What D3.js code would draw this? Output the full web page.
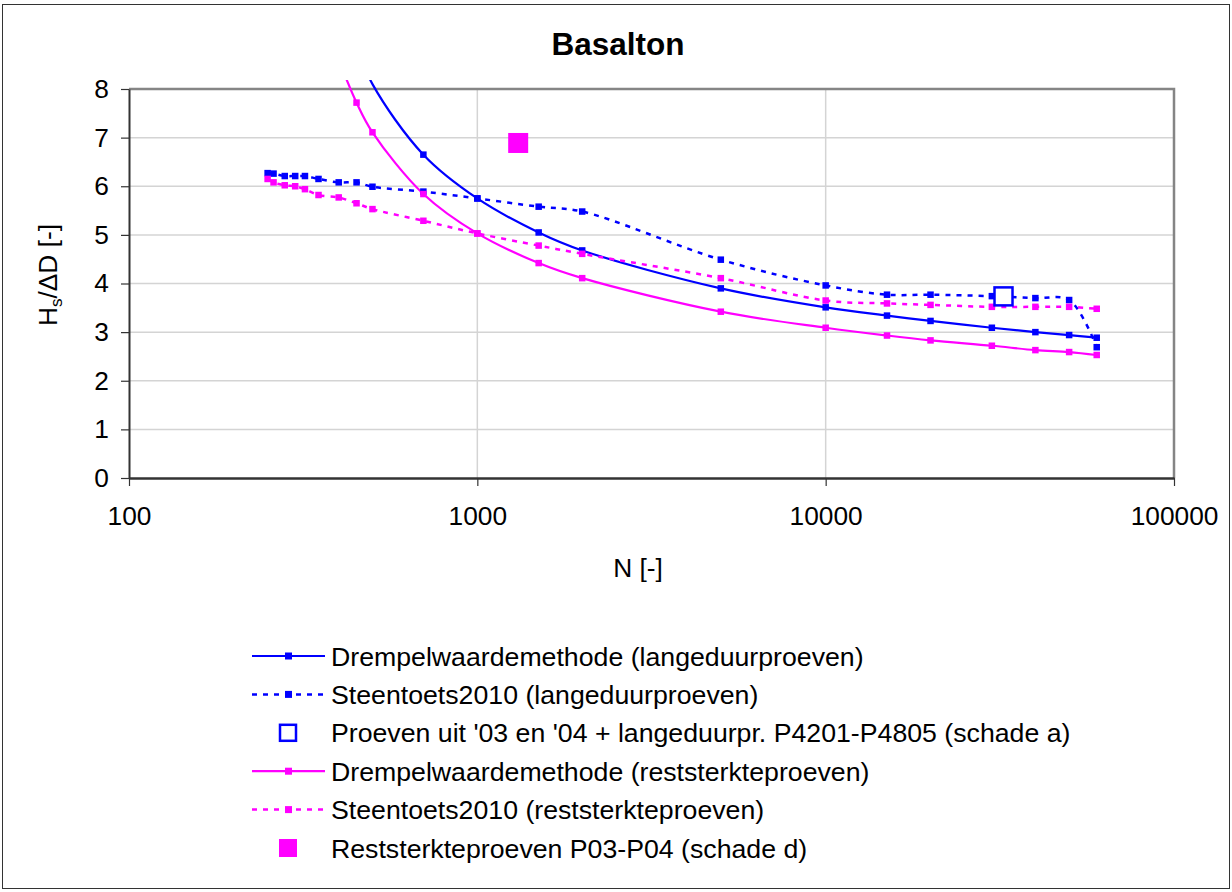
<!DOCTYPE html>
<html>
<head>
<meta charset="utf-8">
<script src="https://cdn.jsdelivr.net/npm/d3@7"></script>
<style>
  body { margin: 0; background: #fff; }
  svg { display: block; }
  text { font-family: Arial, "Liberation Sans", sans-serif; fill: #000; }
</style>
</head>
<body>
<svg id="chart" width="1232" height="892"></svg>
<script>
// ---- data ----
const nDrempelLang = [450, 500, 700, 1000, 1500, 2000, 5000, 10000, 15000, 20000, 30000, 40000, 50000, 60000];
const vDrempelLang = [8.9, 8.1, 6.65, 5.75, 5.05, 4.68, 3.90, 3.51, 3.34, 3.23, 3.09, 3.00, 2.94, 2.885];

const nSteenLang = [250, 260, 280, 300, 320, 350, 400, 450, 500, 700, 1000, 1500, 2000, 5000, 10000, 15000, 20000, 30000, 40000, 50000, 60000];
const vSteenLang = [6.27, 6.26, 6.21, 6.21, 6.21, 6.15, 6.08, 6.08, 5.99, 5.89, 5.75, 5.58, 5.48, 4.49, 3.96, 3.77, 3.77, 3.74, 3.70, 3.66, 2.69];

const nProevenA = [32400];
const vProevenA = [3.735];

const nDrempelRest = [400, 450, 500, 700, 1000, 1500, 2000, 5000, 10000, 15000, 20000, 30000, 40000, 50000, 60000];
const vDrempelRest = [8.6, 7.72, 7.11, 5.84, 5.03, 4.42, 4.11, 3.42, 3.09, 2.93, 2.83, 2.72, 2.63, 2.59, 2.53];

const nSteenRest = [250, 260, 280, 300, 320, 350, 400, 450, 500, 700, 1000, 1500, 2000, 5000, 10000, 15000, 20000, 30000, 40000, 50000, 60000];
const vSteenRest = [6.15, 6.08, 6.02, 6.00, 5.94, 5.82, 5.77, 5.65, 5.53, 5.29, 5.03, 4.78, 4.61, 4.11, 3.65, 3.59, 3.56, 3.52, 3.52, 3.52, 3.48];

const nRestD = [1310];
const vRestD = [6.89];

const xTicks = [100, 1000, 10000, 100000];
const yTicks = [0, 1, 2, 3, 4, 5, 6, 7, 8];

const titleText = "Basalton";
const xLabel = "N [-]";
const legendLabels = [
  "Drempelwaardemethode (langeduurproeven)",
  "Steentoets2010 (langeduurproeven)",
  "Proeven uit '03 en '04 + langeduurpr. P4201-P4805 (schade a)",
  "Drempelwaardemethode (reststerkteproeven)",
  "Steentoets2010 (reststerkteproeven)",
  "Reststerkteproeven P03-P04 (schade d)"
];

// ---- layout ----
const BLUE = "#0000ff", PINK = "#ff00ff";
const FS = 26.3;
const svg = d3.select("#chart");
const plot = { left: 129, right: 1174, top: 89, bottom: 478 };

const x = d3.scaleLog().domain([100, 100000]).range([plot.left, plot.right]);
const y = d3.scaleLinear().domain([0, 8]).range([plot.bottom, plot.top]);

// outer frame
svg.append("rect").attr("x", 2.5).attr("y", 4.5).attr("width", 1227).attr("height", 884)
  .attr("fill", "#fff").attr("stroke", "#333").attr("stroke-width", 1);

// clips
const defs = svg.append("defs");
defs.append("clipPath").attr("id", "lineClip").append("rect")
  .attr("x", plot.left).attr("y", 80).attr("width", plot.right - plot.left).attr("height", plot.bottom - 80);
defs.append("clipPath").attr("id", "plotClip").append("rect")
  .attr("x", plot.left - 5).attr("y", plot.top - 4).attr("width", plot.right - plot.left + 10).attr("height", plot.bottom - plot.top + 8);

// gridlines
const grid = svg.append("g");
grid.selectAll("line.h").data(yTicks.filter(d => d > 0 && d < 8)).join("line")
  .attr("x1", plot.left).attr("x2", plot.right)
  .attr("y1", d => y(d)).attr("y2", d => y(d))
  .attr("stroke", "#d4d4d4").attr("stroke-width", 1.5);
grid.selectAll("line.v").data(xTicks.filter(d => d > 100 && d < 100000)).join("line")
  .attr("y1", plot.top).attr("y2", plot.bottom)
  .attr("x1", d => x(d)).attr("x2", d => x(d))
  .attr("stroke", "#d4d4d4").attr("stroke-width", 1.5);

// plot border top/right
svg.append("path")
  .attr("d", `M${plot.left},${plot.top}H${plot.right}V${plot.bottom}`)
  .attr("fill", "none").attr("stroke", "#858585").attr("stroke-width", 2.5);

// axes
const yAxis = d3.axisLeft(y).tickValues(yTicks).tickSize(8).tickSizeOuter(0).tickPadding(12).tickFormat(d3.format("d"));
const gy = svg.append("g").attr("transform", `translate(${plot.left},0)`).call(yAxis);
gy.select(".domain").attr("stroke", "#333").attr("stroke-width", 2);
gy.selectAll(".tick line").attr("stroke", "#333").attr("stroke-width", 1.2);
gy.selectAll(".tick text").attr("font-size", FS).attr("font-family", "Arial, 'Liberation Sans', sans-serif").attr("fill", "#000");

const xAxis = d3.axisBottom(x).tickValues(xTicks).tickSize(8).tickSizeOuter(0).tickPadding(20).tickFormat(d3.format("d"));
const gx = svg.append("g").attr("transform", `translate(0,${plot.bottom})`).call(xAxis);
gx.select(".domain").attr("stroke", "#333").attr("stroke-width", 2.5);
gx.selectAll(".tick line").attr("stroke", "#333").attr("stroke-width", 1.2);
gx.selectAll(".tick text").attr("font-size", FS).attr("font-family", "Arial, 'Liberation Sans', sans-serif").attr("fill", "#000");

// title & axis labels
svg.append("text").attr("x", 618).attr("y", 55).attr("text-anchor", "middle")
  .attr("font-size", 31.5).attr("font-weight", "bold").text(titleText);
svg.append("text").attr("x", 638).attr("y", 577).attr("text-anchor", "middle")
  .attr("font-size", FS).text(xLabel);
const yl = svg.append("text").attr("transform", "translate(57,275) rotate(-90)").attr("text-anchor", "middle")
  .attr("font-size", FS);
yl.append("tspan").text("H");
yl.append("tspan").attr("font-size", 17).attr("dy", 5).text("s");
yl.append("tspan").attr("dy", -5).text("/ΔD [-]");

// series
const line = d3.line().x(d => x(d[0])).y(d => y(d[1])).curve(d3.curveCatmullRom.alpha(0.5));
const DASH = "5,6";
const series = [
  { n: nDrempelLang, v: vDrempelLang, color: BLUE, dash: null },
  { n: nSteenLang, v: vSteenLang, color: BLUE, dash: DASH },
  { n: nDrempelRest, v: vDrempelRest, color: PINK, dash: null },
  { n: nSteenRest, v: vSteenRest, color: PINK, dash: DASH }
];
const lines = svg.append("g").attr("clip-path", "url(#lineClip)");
const marks = svg.append("g").attr("clip-path", "url(#plotClip)");
const MS = 6.5;
series.forEach(s => {
  const pts = s.n.map((n, i) => [n, s.v[i]]);
  lines.append("path").datum(pts).attr("d", line)
    .attr("fill", "none").attr("stroke", s.color).attr("stroke-width", s.dash ? 2.5 : 2.2)
    .attr("stroke-dasharray", s.dash);
  marks.selectAll(null).data(pts.filter(p => p[1] <= 8.05)).join("rect")
    .attr("x", d => x(d[0]) - MS / 2).attr("y", d => y(d[1]) - MS / 2)
    .attr("width", MS).attr("height", MS).attr("fill", s.color);
});

// single points
const pA = nProevenA.map((n, i) => [n, vProevenA[i]]);
marks.selectAll(null).data(pA).join("rect")
  .attr("x", d => x(d[0]) - 9).attr("y", d => y(d[1]) - 9)
  .attr("width", 18).attr("height", 18).attr("fill", "#fff")
  .attr("stroke", BLUE).attr("stroke-width", 2.5);
const pD = nRestD.map((n, i) => [n, vRestD[i]]);
marks.selectAll(null).data(pD).join("rect")
  .attr("x", d => x(d[0]) - 10).attr("y", d => y(d[1]) - 10)
  .attr("width", 20).attr("height", 20).attr("fill", PINK);

// legend
const leg = svg.append("g");
const legY0 = 656, legDY = 38.4;
const legItems = [
  { type: "line", color: BLUE, dash: null },
  { type: "line", color: BLUE, dash: DASH },
  { type: "hollow", color: BLUE },
  { type: "line", color: PINK, dash: null },
  { type: "line", color: PINK, dash: DASH },
  { type: "filled", color: PINK }
];
legItems.forEach((it, i) => {
  const cy = legY0 + i * legDY;
  const g = leg.append("g");
  if (it.type === "line") {
    g.append("line").attr("x1", 252).attr("x2", 325).attr("y1", cy).attr("y2", cy)
      .attr("stroke", it.color).attr("stroke-width", it.dash ? 2.5 : 2.2).attr("stroke-dasharray", it.dash);
    g.append("rect").attr("x", 288.5 - 3.5).attr("y", cy - 3.5).attr("width", 7).attr("height", 7).attr("fill", it.color);
  } else if (it.type === "hollow") {
    g.append("rect").attr("x", 280).attr("y", cy - 8).attr("width", 16).attr("height", 16)
      .attr("fill", "#fff").attr("stroke", it.color).attr("stroke-width", 2.5);
  } else {
    g.append("rect").attr("x", 279).attr("y", cy - 9).attr("width", 18).attr("height", 18).attr("fill", it.color);
  }
  g.append("text").attr("x", 331).attr("y", cy + 9.5).attr("font-size", 26.7).text(legendLabels[i]);
});
</script>
</body>
</html>
